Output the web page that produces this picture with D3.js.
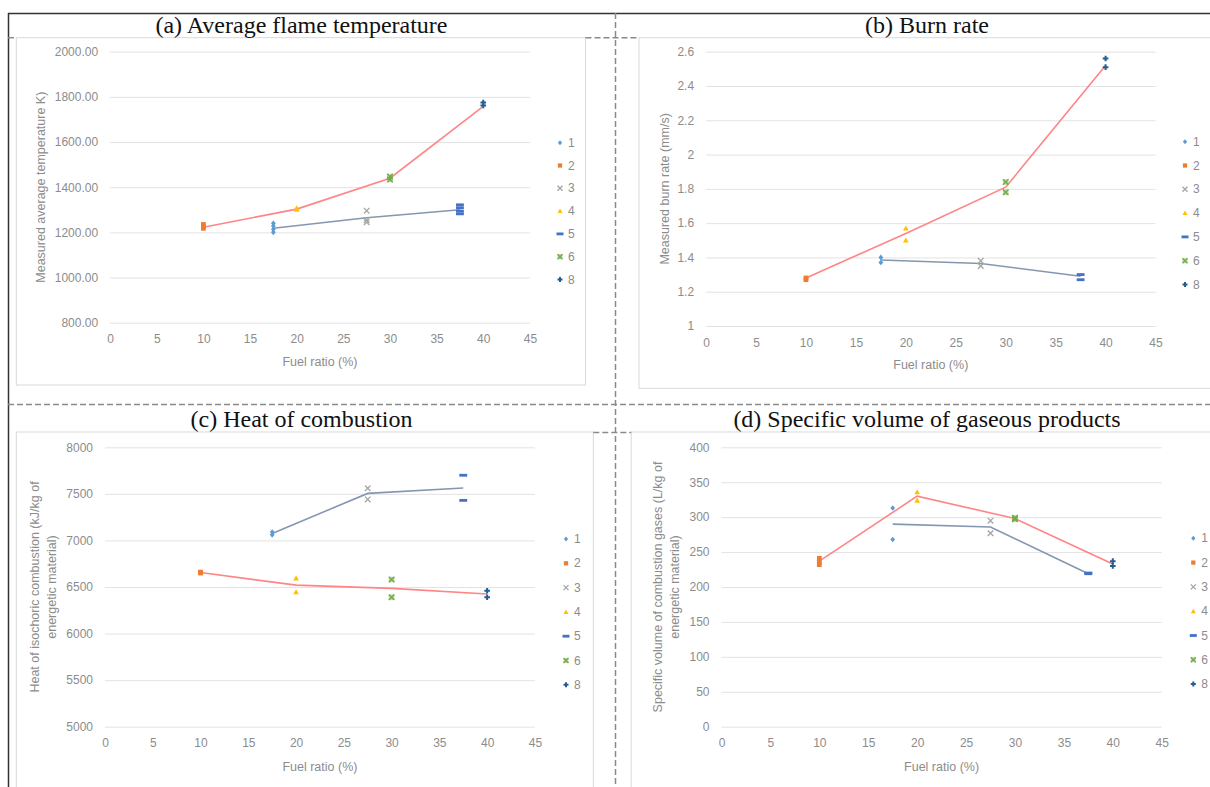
<!DOCTYPE html>
<html>
<head>
<meta charset="utf-8">
<script src="https://d3js.org/d3.v7.min.js"></script>
<style>
  html, body { margin: 0; padding: 0; background: #fff; }
  svg { display: block; }
</style>
</head>
<body>
<div id="chart"></div>
<script>
// Fuel ratio of each sample series (legend order 1,2,3,4,5,6,8)
const seriesNames = ['1', '2', '3', '4', '5', '6', '8'];
const seriesFuel = [17.5, 10, 27.5, 20, 37.5, 30, 40];
const redTrendFuel = [10, 20, 30, 40];
const blueTrendFuel = [17.5, 27.5, 37.5];
const xTicks = [0, 5, 10, 15, 20, 25, 30, 35, 40, 45];

// (a) average flame temperature (K)
const tempPoints = [[1200, 1214, 1228, 1240], [1218, 1227, 1235], [1296, 1254, 1245], [1301, 1308], [1282, 1294, 1309, 1322], [1434, 1447], [1762, 1775]];
const tempRed = [1223, 1303, 1440, 1758];
const tempBlue = [1218, 1265, 1300];
const tempTicks = [800, 1000, 1200, 1400, 1600, 1800, 2000];

// (b) burn rate (mm/s)
const burnPoints = [[1.40, 1.37], [1.27, 1.28], [1.38, 1.35], [1.57, 1.50], [1.30, 1.27], [1.84, 1.78], [2.56, 2.51]];
const burnRed = [1.28, 1.54, 1.81, 2.52];
const burnBlue = [1.385, 1.365, 1.29];
const burnTicks = [1, 1.2, 1.4, 1.6, 1.8, 2, 2.2, 2.4, 2.6];

// (c) heat of isochoric combustion (kJ/kg)
const heatPoints = [[7090, 7060], [6650, 6660], [7560, 7440], [6595, 6445], [7700, 7430], [6580, 6390], [6460, 6390]];
const heatRed = [6655, 6520, 6485, 6425];
const heatBlue = [7075, 7505, 7563];
const heatTicks = [5000, 5500, 6000, 6500, 7000, 7500, 8000];

// (d) specific volume of gaseous products (L/kg)
const volPoints = [[313, 268], [241, 232, 236], [295, 277], [336, 324], [220, 219], [299, 297], [237, 230]];
const volRed = [237, 330, 298, 233];
const volBlue = [290, 286, 219];
const volTicks = [0, 50, 100, 150, 200, 250, 300, 350, 400];

const seriesColors = ['#5B9BD5', '#ED7D31', '#A5A5A5', '#FFC000', '#4472C4', '#70AD47', '#255E91'];
const seriesShapes = ['diamond', 'square', 'x', 'triangle', 'dash', 'xbox', 'plus'];

const W = 1210, H = 787;
const svg = d3.select('#chart').append('svg')
    .attr('width', W)
    .attr('height', H)
    .style('font-family', '"Liberation Sans", Arial, sans-serif');

svg.append('rect').attr('width', W).attr('height', H).attr('fill', '#fff');

// chart boxes (excel chart areas)
const boxes = [
    [16.3, 37.7, 585.5, 385],
    [639, 37.7, 1216, 388.3],
    [16.3, 432, 593.3, 795],
    [631.2, 432, 1216, 795]
];
boxes.forEach(b => {
    svg.append('rect')
        .attr('x', b[0]).attr('y', b[1])
        .attr('width', b[2] - b[0]).attr('height', b[3] - b[1])
        .attr('fill', 'none')
        .attr('stroke', '#d9d9d9')
        .attr('stroke-width', 1);
});

// outer frame
svg.append('line').attr('x1', 8).attr('x2', W).attr('y1', 13.5).attr('y2', 13.5)
    .attr('stroke', '#333').attr('stroke-width', 1.5);
svg.append('line').attr('x1', 8.5).attr('x2', 8.5).attr('y1', 13).attr('y2', H)
    .attr('stroke', '#333').attr('stroke-width', 1.5);

// dashed dividers
const dashed = [
    [615.5, 13, 615.5, H],
    [8, 404.5, W, 404.5],
    [585.5, 37.7, 639, 37.7],
    [8, 37.7, 16, 37.7],
    [593.3, 432.5, 631.2, 432.5]
];
dashed.forEach(d => {
    svg.append('line')
        .attr('x1', d[0]).attr('y1', d[1]).attr('x2', d[2]).attr('y2', d[3])
        .attr('stroke', '#8a8a8a')
        .attr('stroke-width', 1.5)
        .attr('stroke-dasharray', '6,3');
});

const panels = [
    {
        title: '(a) Average flame temperature', tx: 301.5, ty: 24.5,
        x0: 110.1, x1: 529.9, yTop: 51.7, yBot: 322.7,
        ticks: tempTicks, fmt: d3.format('.2f'),
        points: tempPoints, red: tempRed, blue: tempBlue,
        yTitle: ['Measured average temperature K)'], yTitleX: [40.8],
        legX: 560, legY: 142.7, legStep: 22.8, xTitleY: 361.7
    },
    {
        title: '(b) Burn rate', tx: 927, ty: 24.5,
        x0: 706.1, x1: 1155.5, yTop: 51.7, yBot: 326,
        ticks: burnTicks, fmt: d => String(+d.toFixed(1)),
        points: burnPoints, red: burnRed, blue: burnBlue,
        yTitle: ['Measured burn rate (mm/s)'], yTitleX: [664.8],
        legX: 1185, legY: 141.7, legStep: 23.8, xTitleY: 365
    },
    {
        title: '(c) Heat of combustion', tx: 301.5, ty: 418.5,
        x0: 105, x1: 534.9, yTop: 447.3, yBot: 726.7,
        ticks: heatTicks, fmt: d3.format('d'),
        points: heatPoints, red: heatRed, blue: heatBlue,
        yTitle: ['Heat of isochoric combustion (kJ/kg of', 'energetic material)'], yTitleX: [35, 52],
        legX: 566, legY: 539, legStep: 24.3, xTitleY: 766.7
    },
    {
        title: '(d) Specific volume of gaseous products', tx: 927, ty: 418.5,
        x0: 721.5, x1: 1161.7, yTop: 447.3, yBot: 726.7,
        ticks: volTicks, fmt: d3.format('d'),
        points: volPoints, red: volRed, blue: volBlue,
        yTitle: ['Specific volume of combustion gases (L/kg of', 'energetic material)'], yTitleX: [658, 675],
        legX: 1193.3, legY: 538.3, legStep: 24.3, xTitleY: 766.7
    }
];

function drawMarker(g, shape, color, cx, cy, s) {
    const m = g.append('g').attr('transform', `translate(${cx},${cy})`);
    switch (shape) {
        case 'diamond':
            m.append('path').attr('d', `M0,${-s}L${s * 0.85},0L0,${s}L${-s * 0.85},0Z`).attr('fill', color);
            break;
        case 'square':
            m.append('rect').attr('x', -s * 0.85).attr('y', -s * 0.85)
                .attr('width', s * 1.7).attr('height', s * 1.7).attr('fill', color);
            break;
        case 'x':
            m.append('path').attr('d', `M${-s},${-s}L${s},${s}M${-s},${s}L${s},${-s}`)
                .attr('stroke', color).attr('stroke-width', 1.3);
            break;
        case 'triangle':
            m.append('path').attr('d', `M0,${-s}L${s},${s * 0.8}L${-s},${s * 0.8}Z`).attr('fill', color);
            break;
        case 'dash':
            m.append('rect').attr('x', -s * 1.4).attr('y', -1.4)
                .attr('width', s * 2.8).attr('height', 2.8).attr('fill', color);
            break;
        case 'xbox':
            m.append('rect').attr('x', -s).attr('y', -s)
                .attr('width', s * 2).attr('height', s * 2).attr('fill', color).attr('opacity', 0.45);
            m.append('path').attr('d', `M${-s},${-s}L${s},${s}M${-s},${s}L${s},${-s}`)
                .attr('stroke', color).attr('stroke-width', 1.4);
            break;
        case 'plus':
            m.append('path').attr('d', `M${-s},0L${s},0M0,${-s}L0,${s}`)
                .attr('stroke', color).attr('stroke-width', 2);
            break;
    }
}

panels.forEach(p => {
    const g = svg.append('g');
    const x = d3.scaleLinear().domain([0, 45]).range([p.x0, p.x1]);
    const y = d3.scaleLinear().domain(d3.extent(p.ticks)).range([p.yBot, p.yTop]);

    // title
    g.append('text')
        .attr('x', p.tx).attr('y', p.ty)
        .attr('text-anchor', 'middle')
        .attr('dominant-baseline', 'central')
        .style('font-family', '"Liberation Serif", "Times New Roman", serif')
        .style('font-size', '24px')
        .style('fill', '#111')
        .text(p.title);

    // y axis with gridlines
    const yAxis = g.append('g')
        .attr('transform', `translate(${p.x0},0)`)
        .call(d3.axisLeft(y).tickValues(p.ticks).tickFormat(p.fmt)
            .tickSize(-(p.x1 - p.x0)).tickPadding(12));
    yAxis.select('.domain').remove();
    yAxis.selectAll('line').attr('stroke', '#e3e3e3').attr('stroke-width', 1);
    yAxis.selectAll('text').style('font-size', '12px').style('fill', '#8c8c8c')
        .style('font-family', '"Liberation Sans", Arial, sans-serif');

    // x axis labels
    const xAxis = g.append('g')
        .attr('transform', `translate(0,${p.yBot})`)
        .call(d3.axisBottom(x).tickValues(xTicks).tickSize(0).tickPadding(12));
    xAxis.select('.domain').remove();
    xAxis.selectAll('text').style('font-size', '12px').style('fill', '#8c8c8c')
        .style('font-family', '"Liberation Sans", Arial, sans-serif');

    // axis titles
    g.append('text')
        .attr('x', (p.x0 + p.x1) / 2).attr('y', p.xTitleY)
        .attr('text-anchor', 'middle')
        .attr('dominant-baseline', 'central')
        .style('font-size', '12.5px')
        .style('fill', '#8c8c8c')
        .text('Fuel ratio (%)');

    const yc = (p.yTop + p.yBot) / 2;
    p.yTitle.forEach((t, i) => {
        g.append('text')
            .attr('transform', `translate(${p.yTitleX[i]},${yc}) rotate(-90)`)
            .attr('text-anchor', 'middle')
            .attr('dominant-baseline', 'central')
            .style('font-size', '12.5px')
            .style('fill', '#8c8c8c')
            .text(t);
    });

    // trend lines
    const line = d3.line().x(d => x(d[0])).y(d => y(d[1]));
    g.append('path')
        .datum(blueTrendFuel.map((f, i) => [f, p.blue[i]]))
        .attr('d', line)
        .attr('fill', 'none')
        .attr('stroke', '#8497B0')
        .attr('stroke-width', 1.6);
    g.append('path')
        .datum(redTrendFuel.map((f, i) => [f, p.red[i]]))
        .attr('d', line)
        .attr('fill', 'none')
        .attr('stroke', '#FF8585')
        .attr('stroke-width', 1.6);

    // markers
    p.points.forEach((vals, si) => {
        vals.forEach(v => {
            drawMarker(g, seriesShapes[si], seriesColors[si], x(seriesFuel[si]), y(v), 2.8);
        });
    });

    // legend
    seriesNames.forEach((name, si) => {
        const ly = p.legY + si * p.legStep;
        drawMarker(g, seriesShapes[si], seriesColors[si], p.legX, ly, 2.5);
        g.append('text')
            .attr('x', p.legX + 8).attr('y', ly)
            .attr('dominant-baseline', 'central')
            .style('font-size', '12px')
            .style('fill', '#8c8c8c')
            .text(name);
    });
});
</script>
</body>
</html>
